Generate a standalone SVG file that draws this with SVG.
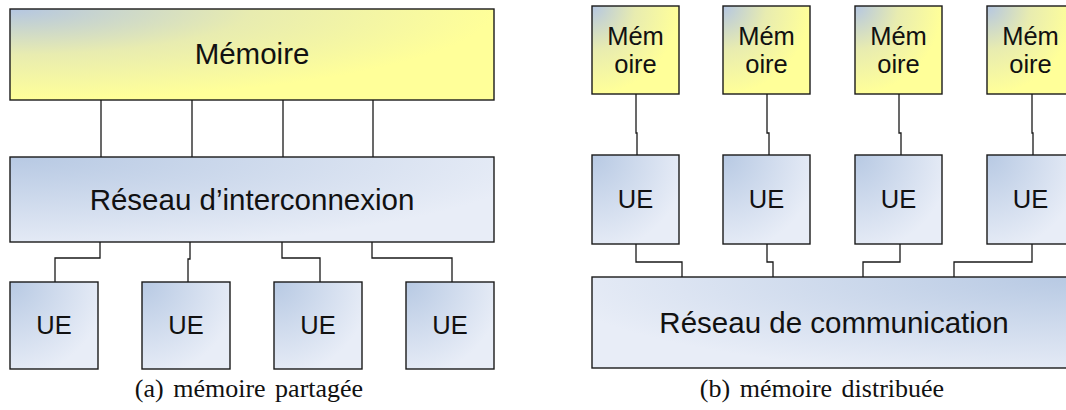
<svg xmlns="http://www.w3.org/2000/svg" width="1066" height="410" viewBox="0 0 1066 410">
<defs>
<radialGradient id="gMem" cx="0" cy="0" r="1" fx="0" fy="0">
<stop offset="0" stop-color="#b4c6e2"/>
<stop offset="0.5" stop-color="#e8ecb0"/>
<stop offset="1" stop-color="#ffff99"/>
</radialGradient>
<radialGradient id="gBlue" cx="0" cy="0" r="1.1" fx="0" fy="0">
<stop offset="0" stop-color="#b7c9e3"/>
<stop offset="1" stop-color="#e8edf7"/>
</radialGradient>
<radialGradient id="gBlueR" cx="1" cy="0" r="1.1" fx="1" fy="0">
<stop offset="0" stop-color="#b7c9e3"/>
<stop offset="1" stop-color="#e8edf7"/>
</radialGradient>
</defs>
<style>
.box{stroke:#1a1a1a;stroke-width:1.4}
.mem{fill:url(#gMem)}
.ue{fill:url(#gBlue)}
.ueR{fill:url(#gBlueR)}
.lbl{font-family:"Liberation Sans",Arial,sans-serif;fill:#111;text-anchor:middle}
.big{font-size:29.5px}
.sm{font-size:25.5px}
.cap{font-family:"Liberation Serif","Times New Roman",serif;font-size:26px;fill:#111;text-anchor:middle}
.conn{fill:none;stroke:#1a1a1a;stroke-width:1.3}
</style>
<rect width="1066" height="410" fill="#ffffff"/>
<g id="connectors">
<path class="conn" d="M101 100V157M192 100V157M283 100V157M373 100V157"/>
<path class="conn" d="M100 242V258H55V282"/>
<path class="conn" d="M190 242V259H188V282"/>
<path class="conn" d="M282 242V258H320V282"/>
<path class="conn" d="M372 242V258H452V282"/>
<path class="conn" d="M636 94V133H637V155"/>
<path class="conn" d="M767 94V133H769V155"/>
<path class="conn" d="M899 94V133H901V155"/>
<path class="conn" d="M1032 94V133H1033V155"/>
<path class="conn" d="M636 244V262H682V277"/>
<path class="conn" d="M767 244V262H773V277"/>
<path class="conn" d="M900 244V262H863V277"/>
<path class="conn" d="M1032 244V262H954V277"/>
</g>
<g id="memoire-a">
<rect class="box mem" x="10" y="9" width="484" height="91"/>
<text class="lbl big" x="252" y="64">Mémoire</text>
</g>
<g id="reseau-interconnexion">
<rect class="box ue" x="10" y="157" width="484" height="85"/>
<text class="lbl big" x="252" y="210">Réseau d’interconnexion</text>
</g>
<g id="ue-a1"><rect class="box ue" x="10" y="282" width="88" height="87"/><text class="lbl sm" x="54" y="334">UE</text></g>
<g id="ue-a2"><rect class="box ue" x="142" y="282" width="88" height="87"/><text class="lbl sm" x="186" y="334">UE</text></g>
<g id="ue-a3"><rect class="box ue" x="274" y="282" width="88" height="87"/><text class="lbl sm" x="318" y="334">UE</text></g>
<g id="ue-a4"><rect class="box ue" x="406" y="282" width="88" height="87"/><text class="lbl sm" x="450" y="334">UE</text></g>
<g id="mem-b1"><rect class="box mem" x="592" y="6" width="87" height="88"/><text class="lbl sm" x="635.5" y="45">Mém</text><text class="lbl sm" x="635.5" y="73">oire</text></g>
<g id="mem-b2"><rect class="box mem" x="723" y="6" width="87" height="88"/><text class="lbl sm" x="766.5" y="45">Mém</text><text class="lbl sm" x="766.5" y="73">oire</text></g>
<g id="mem-b3"><rect class="box mem" x="855" y="6" width="87" height="88"/><text class="lbl sm" x="898.5" y="45">Mém</text><text class="lbl sm" x="898.5" y="73">oire</text></g>
<g id="mem-b4"><rect class="box mem" x="987" y="6" width="87" height="88"/><text class="lbl sm" x="1030.5" y="45">Mém</text><text class="lbl sm" x="1030.5" y="73">oire</text></g>
<g id="ue-b1"><rect class="box ue" x="592" y="155" width="87" height="89"/><text class="lbl sm" x="635.5" y="208">UE</text></g>
<g id="ue-b2"><rect class="box ue" x="723" y="155" width="87" height="89"/><text class="lbl sm" x="766.5" y="208">UE</text></g>
<g id="ue-b3"><rect class="box ue" x="855" y="155" width="87" height="89"/><text class="lbl sm" x="898.5" y="208">UE</text></g>
<g id="ue-b4"><rect class="box ue" x="987" y="155" width="87" height="89"/><text class="lbl sm" x="1030.5" y="208">UE</text></g>
<g id="reseau-communication">
<rect class="box ueR" x="592" y="277" width="484" height="91"/>
<text class="lbl big" x="834" y="333">Réseau de communication</text>
</g>
<text class="cap" x="249" y="397" word-spacing="3">(a) mémoire partagée</text>
<text class="cap" x="822" y="397" word-spacing="3">(b) mémoire distribuée</text>
</svg>
